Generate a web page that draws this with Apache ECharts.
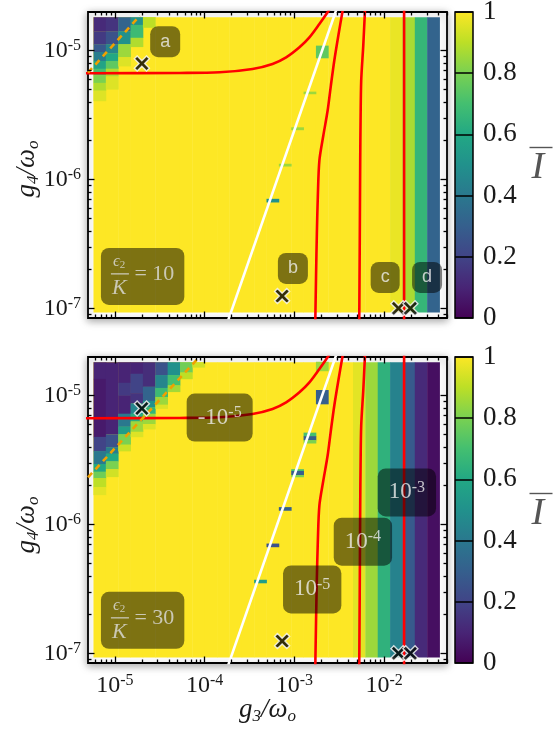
<!DOCTYPE html>
<html>
<head>
<meta charset="utf-8">
<script src="https://cdn.jsdelivr.net/npm/echarts@6/dist/echarts.min.js"></script>
<style>
  html, body { margin: 0; background: #fff; }
  #chart { width: 553px; height: 737px; }
</style>
</head>
<body>
<div id="chart"></div>
<script>
// every coordinate below is log10 of g3/wo (x) or g4/wo (y)
const xRange = [-5.3, -1.3];
const yRange = [-7.075, -4.70];

// heatmap grid: 28 columns in g3, full height in g4
const colStart = -5.239;
const colWidth = 0.1377;
const heatTop = -4.74;
const heatBottom = -7.03;

// base value of each column (eps2/K = 10 and 30)
const colsTop = [1, 1, 1, 1, 1, 1, 1, 1, 1, 1, 1, 1, 1, 1, 1, 1, 1, 1, 1, 1, 1, 1, 1, 1, 0.97, 0.87, 0.66, 0.32];
const colsBottom = [1, 1, 1, 1, 1, 1, 1, 1, 1, 1, 1, 1, 1, 1, 1, 1, 1, 1, 1, 1, 1, 0.96, 0.85, 0.64, 0.44, 0.28, 0.12, 0.04];

// cells that differ from the column value: [col, yFrom, yTo, value]
const patchesTop = [
  [0, -4.74, -4.85, 0.12], [0, -4.85, -4.95, 0.17], [0, -4.95, -5.01, 0.28], [0, -5.01, -5.08, 0.42],
  [0, -5.08, -5.14, 0.58], [0, -5.14, -5.19, 0.7], [0, -5.19, -5.25, 0.8], [0, -5.25, -5.31, 0.88], [0, -5.31, -5.39, 0.95],
  [1, -4.74, -4.85, 0.15], [1, -4.85, -4.95, 0.25], [1, -4.95, -5.02, 0.45], [1, -5.02, -5.08, 0.6],
  [1, -5.08, -5.14, 0.75], [1, -5.14, -5.2, 0.88], [1, -5.2, -5.3, 0.95],
  [2, -4.74, -4.85, 0.32], [2, -4.85, -4.95, 0.5], [2, -4.95, -5.05, 0.85], [2, -5.05, -5.12, 0.95],
  [3, -4.74, -4.8, 0.5], [3, -4.8, -4.9, 0.68], [3, -4.9, -4.97, 0.88],
  [4, -4.74, -4.82, 0.9],
  [18, -4.961, -5.057, 0.75],
  [17, -5.318, -5.336, 0.85],
  [16, -5.595, -5.615, 0.85],
  [15, -5.878, -5.897, 0.85],
  [14, -6.150, -6.176, 0.5]
];
const patchesBottom = [
  [0, -4.74, -4.87, 0.1], [0, -4.87, -5.32, 0.07], [0, -5.32, -5.43, 0.2], [0, -5.43, -5.53, 0.4],
  [0, -5.53, -5.59, 0.6], [0, -5.59, -5.64, 0.78], [0, -5.64, -5.71, 0.9], [0, -5.71, -5.77, 0.96],
  [1, -4.74, -5.3, 0.1], [1, -5.3, -5.4, 0.25], [1, -5.4, -5.45, 0.42], [1, -5.45, -5.51, 0.6],
  [1, -5.51, -5.57, 0.8], [1, -5.57, -5.63, 0.93],
  [2, -4.74, -4.9, 0.1], [2, -4.9, -5.0, 0.17], [2, -5.0, -5.14, 0.1], [2, -5.14, -5.24, 0.4],
  [2, -5.24, -5.3, 0.55], [2, -5.3, -5.38, 0.8], [2, -5.38, -5.43, 0.92],
  [3, -4.74, -4.83, 0.1], [3, -4.83, -4.98, 0.2], [3, -4.98, -5.06, 0.15], [3, -5.06, -5.14, 0.45],
  [3, -5.14, -5.2, 0.62], [3, -5.2, -5.28, 0.85], [3, -5.28, -5.32, 0.95],
  [4, -4.74, -4.93, 0.13], [4, -4.93, -5.04, 0.32], [4, -5.04, -5.09, 0.5], [4, -5.09, -5.14, 0.65],
  [4, -5.14, -5.22, 0.85], [4, -5.22, -5.26, 0.95],
  [5, -4.74, -4.84, 0.25], [5, -4.84, -4.94, 0.45], [5, -4.94, -5.01, 0.68], [5, -5.01, -5.07, 0.85], [5, -5.07, -5.1, 0.95],
  [6, -4.74, -4.84, 0.5], [6, -4.84, -4.92, 0.7], [6, -4.92, -4.97, 0.86],
  [7, -4.74, -4.82, 0.78], [7, -4.82, -4.87, 0.9],
  [8, -4.74, -4.78, 0.93],
  [18, -4.737, -4.808, 0.85], [18, -4.956, -5.065, 0.3],
  [17, -5.287, -5.314, 0.7], [17, -5.314, -5.345, 0.3], [17, -5.345, -5.369, 0.8],
  [16, -5.571, -5.585, 0.7], [16, -5.585, -5.616, 0.3], [16, -5.616, -5.631, 0.8],
  [15, -5.865, -5.891, 0.3],
  [14, -6.148, -6.174, 0.25],
  [13, -6.429, -6.454, 0.55]
];

// curves (same in both panels)
const redFlat = [[-5.35, -5.175], [-4.28, -5.173], [-3.833, -5.168], [-3.467, -5.142], [-3.244, -5.103],
  [-3.092, -5.052], [-2.944, -4.974], [-2.833, -4.897], [-2.722, -4.793], [-2.619, -4.690], [-2.6, -4.667]];
const redLeft = [[-2.463, -4.690], [-2.511, -4.884], [-2.556, -5.078], [-2.594, -5.271], [-2.630, -5.465],
  [-2.678, -5.659], [-2.722, -5.853], [-2.739, -6.124], [-2.750, -6.419], [-2.759, -6.744], [-2.767, -7.078], [-2.769, -7.13]];
const redMid = [[-2.214, -4.690], [-2.233, -4.961], [-2.256, -5.233], [-2.263, -5.543], [-2.267, -5.853],
  [-2.272, -6.473], [-2.278, -7.132]];
const redRight = [[-1.778, -4.65], [-1.778, -7.13]];
const whiteLine = [[-3.76, -7.136], [-2.52, -4.656]];
const orangeTop = [[-5.3, -5.171], [-4.722, -4.729]];
const orangeBottom = [[-5.3, -5.634], [-4.089, -4.722]];

const markers = [[-4.70, -5.10], [-3.137, -6.905], [-1.841, -7.0], [-1.708, -7.0]];

// boxed annotations: [text, x, y]; the fraction boxes are anchored at their left edge
const notesTop = [['{t|a}', -4.44, -4.93], ['{t|b}', -3.017, -6.69], ['{t|c}', -1.989, -6.76], ['{t|d}', -1.522, -6.76],
  ['{n|\u03f5}{ns|2}\n{bar|}{eq| = 10}\n{k|K}', -5.156, -6.752]];
const notesBottom = [['{b|-10}{s|-5}', -3.833, -5.17], ['{b|10}{s|-5}', -2.802, -6.504], ['{b|10}{s|-4}', -2.237, -6.133],
  ['{b|10}{s|-3}', -1.747, -5.751], ['{n|\u03f5}{ns|2}\n{bar|}{eq| = 30}\n{k|K}', -5.156, -6.744]];

const majorX = [-5, -4, -3, -2];
const majorY = [-7, -6, -5];

const viridis = ['#440154', '#482475', '#414487', '#355f8d', '#2a788e', '#21918c',
  '#22a884', '#44bf70', '#7ad151', '#bddf26', '#fde725'];

const serif = 'Liberation Serif';
const ink = '#1a1a1a';

function minorTicks(range) {
  let out = [];
  for (let d = Math.floor(range[0]); d < range[1]; d++) {
    for (let k = 2; k <= 9; k++) {
      let v = d + Math.log10(k);
      if (v > range[0] && v < range[1]) out.push(v);
    }
  }
  return out;
}
const minorX = minorTicks(xRange);
const minorY = minorTicks(yRange);

const powRich = {
  b: { fontFamily: serif, fontSize: 24, lineHeight: 26, color: ink },
  s: { fontFamily: serif, fontSize: 16, lineHeight: 16, verticalAlign: 'top', color: ink }
};
function powLabel(v) { return '{b|10}{s|' + v + '}'; }

const nameRich = {
  i: { fontFamily: serif, fontStyle: 'italic', fontSize: 27, lineHeight: 30, color: ink },
  sub: { fontFamily: serif, fontStyle: 'italic', fontSize: 17, lineHeight: 14, verticalAlign: 'bottom', color: ink }
};

function colX(i) { return colStart + i * colWidth; }

function buildCells(colVals, patches) {
  let cells = colVals.map((v, i) => [colX(i), colX(i + 1), heatBottom, heatTop, v]);
  patches.forEach(p => cells.push([colX(p[0]), colX(p[0] + 1), p[2], p[1], p[3]]));
  return cells;
}

function tickAxis(dim, grid, pos, major, label, name) {
  let range = dim === 'x' ? xRange : yRange;
  let majors = dim === 'x' ? majorX : majorY;
  let minors = dim === 'x' ? minorX : minorY;
  let ax = {
    type: 'value', gridIndex: grid, position: pos, min: range[0], max: range[1], z: 5,
    axisLine: { show: false, onZero: false },
    splitLine: { show: false },
    axisTick: { show: true, inside: true, length: major ? 6.5 : 3.5,
      customValues: major ? majors : minors, lineStyle: { color: '#000', width: 1.3 } },
    axisLabel: { show: false }
  };
  if (label) {
    ax.axisLabel = { show: true, customValues: majors, formatter: powLabel, rich: powRich,
      margin: dim === 'x' ? 10 : 7 };
  }
  if (name) {
    ax.name = name.text;
    ax.nameLocation = 'middle';
    ax.nameGap = name.gap;
    ax.nameMoveOverlap = false;
    ax.nameTextStyle = { rich: nameRich, padding: name.padding || 0 };
  }
  return ax;
}

let chart = echarts.init(document.getElementById('chart'));

let grids = [];
let xAxes = [];
let yAxes = [];
[12, 357].forEach((top, g) => {
  grids.push({ left: 88, top: top, width: 359, height: 306, show: true, backgroundColor: '#fff',
    borderColor: '#000', borderWidth: 1.8, shadowBlur: 8, shadowColor: 'rgba(0,0,0,0.35)', shadowOffsetY: 2,
    outerBoundsMode: 'none' });
  xAxes.push(tickAxis('x', g, 'bottom', true, g === 1,
    g === 1 ? { text: '{i|g}{sub|3}{i|/\u03c9}{sub|o}', gap: 32 } : null));
  xAxes.push(tickAxis('x', g, 'bottom', false, false));
  xAxes.push(tickAxis('x', g, 'top', true, false));
  xAxes.push(tickAxis('x', g, 'top', false, false));
  yAxes.push(tickAxis('y', g, 'left', true, true,
    { text: '{i|g}{sub|4}{i|/\u03c9}{sub|o}', gap: 46, padding: g === 1 ? [0, 30, 0, 0] : [0, 8, 0, 0] }));
  yAxes.push(tickAxis('y', g, 'left', false, false));
  yAxes.push(tickAxis('y', g, 'right', true, false));
  yAxes.push(tickAxis('y', g, 'right', false, false));
});
// colour bars
[12, 357].forEach((top, g) => {
  grids.push({ left: 455, top: top, width: 18, height: 306, outerBoundsMode: 'none' });
  xAxes.push({ type: 'value', gridIndex: 2 + g, min: 0, max: 1, show: false });
  yAxes.push({ type: 'value', gridIndex: 2 + g, min: 0, max: 1, interval: 0.2, position: 'right', z: 5,
    axisLine: { show: false }, axisTick: { show: false },
    splitLine: { show: true, lineStyle: { color: '#000', width: 1.5 } },
    axisLabel: { margin: 10, fontFamily: serif, fontSize: 27, color: ink,
      formatter: v => (v === 0 || v === 1) ? String(v) : v.toFixed(1) } });
});

function renderCell(params, api) {
  let p0 = api.coord([api.value(0), api.value(3)]);
  let p1 = api.coord([api.value(1), api.value(2)]);
  return {
    type: 'rect',
    shape: { x: p0[0], y: p0[1], width: p1[0] - p0[0] + 0.4, height: p1[1] - p0[1] + 0.3 },
    style: { fill: api.visual('color') }
  };
}

function renderBar(params, api) {
  let p0 = api.coord([0, 1]);
  let p1 = api.coord([1, 0]);
  return {
    type: 'rect',
    shape: { x: p0[0], y: p0[1], width: p1[0] - p0[0], height: p1[1] - p0[1] },
    style: {
      fill: new echarts.graphic.LinearGradient(0, 0, 0, 1,
        viridis.slice().reverse().map((c, i) => ({ offset: i / (viridis.length - 1), color: c }))),
      stroke: '#000', lineWidth: 1.5
    }
  };
}

let series = [
  { type: 'custom', xAxisIndex: 0, yAxisIndex: 0, renderItem: renderCell, clip: true, z: 1,
    encode: { x: [0, 1], y: [2, 3] }, data: buildCells(colsTop, patchesTop) },
  { type: 'custom', xAxisIndex: 4, yAxisIndex: 4, renderItem: renderCell, clip: true, z: 1,
    encode: { x: [0, 1], y: [2, 3] }, data: buildCells(colsBottom, patchesBottom) },
  { type: 'custom', xAxisIndex: 8, yAxisIndex: 8, renderItem: renderBar, data: [[0, 1]] },
  { type: 'custom', xAxisIndex: 9, yAxisIndex: 9, renderItem: renderBar, data: [[0, 1]] }
];

const noteRich = {
  t: { fontFamily: 'Liberation Sans', fontSize: 18, lineHeight: 19, color: '#eee' },
  b: { fontFamily: serif, fontSize: 23, lineHeight: 26, color: '#eee' },
  s: { fontFamily: serif, fontSize: 16, lineHeight: 15, verticalAlign: 'top', color: '#eee' },
  n: { fontFamily: serif, fontStyle: 'italic', fontSize: 17, lineHeight: 18, color: '#ddd', padding: [0, 0, 0, 2] },
  ns: { fontFamily: serif, fontSize: 11, lineHeight: 14, verticalAlign: 'bottom', color: '#ddd' },
  bar: { width: 18, height: 0, borderColor: '#ddd', borderWidth: 0.8 },
  eq: { fontFamily: serif, fontSize: 22, lineHeight: 6, color: '#ddd' },
  k: { fontFamily: serif, fontStyle: 'italic', fontSize: 22, lineHeight: 22, color: '#ddd', padding: [0, 0, 0, 1] }
};

function line(xi, data, color, extra) {
  return Object.assign({ type: 'line', xAxisIndex: xi, yAxisIndex: xi, data: data, symbol: 'none',
    silent: true, z: 3, lineStyle: { color: color, width: 2.6 } }, extra || {});
}

[[0, orangeTop, notesTop], [4, orangeBottom, notesBottom]].forEach(([ai, orange, notes]) => {
  series.push(line(ai, redFlat, '#ff0000', { smooth: 0.3 }));
  series.push(line(ai, redLeft, '#ff0000', { smooth: 0.3 }));
  series.push(line(ai, redMid, '#ff0000', { smooth: 0.3 }));
  series.push(line(ai, redRight, '#ff0000'));
  series.push(line(ai, whiteLine, '#ffffff'));
  series.push(line(ai, orange, '#f0a000', { lineStyle: { color: '#f0a000', width: 2.6, type: [6, 5] } }));
  series.push({
    type: 'scatter', xAxisIndex: ai, yAxisIndex: ai, z: 4, silent: true,
    symbol: 'path://M3,0 L8,5 L13,0 L16,3 L11,8 L16,13 L13,16 L8,11 L3,16 L0,13 L5,8 L0,3 Z',
    symbolSize: 15,
    itemStyle: { color: '#000', borderColor: '#fff', borderWidth: 1.4 },
    data: markers
  });
  series.push({
    type: 'scatter', xAxisIndex: ai, yAxisIndex: ai, z: 5, silent: true, symbolSize: 1,
    itemStyle: { color: 'rgba(0,0,0,0)' },
    data: notes.map(n => {
      let frac = n[0].indexOf('{n|') === 0;
      return {
        value: [n[1], n[2]],
        label: {
          show: true, position: 'inside', formatter: n[0], rich: noteRich, align: frac ? 'left' : 'center',
          backgroundColor: 'rgba(0,0,0,0.63)', borderRadius: 8,
          padding: n[0].indexOf('{t|') === 0 ? [6, 10] : (frac ? [5, 10, 6, 10] : [11, 11])
        }
      };
    })
  });
});

let option = {
  animation: false,
  grid: grids,
  xAxis: xAxes,
  yAxis: yAxes,
  visualMap: {
    type: 'continuous', show: false, min: 0, max: 1, dimension: 4, seriesIndex: [0, 1],
    inRange: { color: viridis }
  },
  graphic: [0, 1].map(g => ({
    type: 'group', left: 527, top: g === 0 ? 145 : 491,
    children: [
      { type: 'line', shape: { x1: 0, y1: 0, x2: 23, y2: 0 }, style: { stroke: '#555', lineWidth: 1.4 } },
      { type: 'text', x: 2, y: 2, style: { text: 'I', fontFamily: serif, fontStyle: 'italic', fontSize: 38, fill: '#555' } }
    ]
  })),
  series: series
};

chart.setOption(option);
</script>
</body>
</html>
